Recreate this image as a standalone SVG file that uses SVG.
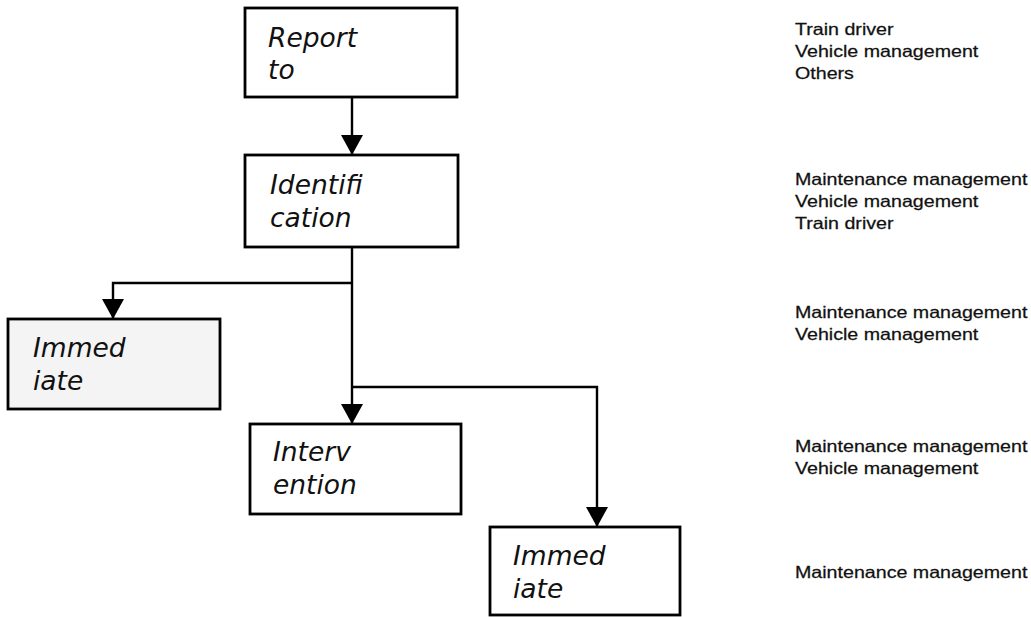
<svg xmlns="http://www.w3.org/2000/svg" width="1031" height="617" viewBox="0 0 1031 617">
  <style>
    .box { fill: #ffffff; stroke: #000000; stroke-width: 2.8; }
    .box.grey { fill: #f4f4f4; }
    .lbl { font-family: "DejaVu Sans", Verdana, sans-serif; font-style: italic; font-size: 26.5px; fill: #111111; }
    .side { font-family: "Liberation Sans", Arial, sans-serif; font-size: 16.5px; fill: #111111; stroke: #111111; stroke-width: 0.25; }
    .conn { fill: none; stroke: #000000; stroke-width: 2.4; }
  </style>
  <defs>
    <marker id="arrow" markerUnits="userSpaceOnUse" markerWidth="22" markerHeight="22" refX="20" refY="11" orient="auto">
      <path d="M0,0 L20,11 L0,22 Z" fill="#000000"/>
    </marker>
  </defs>
  <rect width="1031" height="617" fill="#ffffff"/>

  <g id="connectors">
    <line class="conn" x1="352" y1="97" x2="352" y2="155" marker-end="url(#arrow)"/>
    <line class="conn" x1="352" y1="247" x2="352" y2="424" marker-end="url(#arrow)"/>
    <path class="conn" d="M352,283 H113 V319" marker-end="url(#arrow)"/>
    <path class="conn" d="M352,387 H597 V527" marker-end="url(#arrow)"/>
  </g>

  <g id="node-report">
    <rect class="box" x="245" y="8" width="212" height="89"/>
    <text class="lbl" x="268" y="47">Report</text>
    <text class="lbl" x="268" y="79">to</text>
  </g>
  <g id="node-identification">
    <rect class="box" x="245" y="155" width="213" height="92"/>
    <text class="lbl" x="270" y="194">Identifi</text>
    <text class="lbl" x="270" y="227">cation</text>
  </g>
  <g id="node-immediate-left">
    <rect class="box grey" x="8" y="319" width="212" height="90"/>
    <text class="lbl" x="33" y="357">Immed</text>
    <text class="lbl" x="33" y="390">iate</text>
  </g>
  <g id="node-intervention">
    <rect class="box" x="250" y="424" width="211" height="90"/>
    <text class="lbl" x="273" y="461">Interv</text>
    <text class="lbl" x="273" y="494">ention</text>
  </g>
  <g id="node-immediate-bottom">
    <rect class="box" x="490" y="527" width="190" height="88"/>
    <text class="lbl" x="513" y="565">Immed</text>
    <text class="lbl" x="513" y="598">iate</text>
  </g>

  <g id="roles-1" transform="translate(795,0) scale(1.19,1)">
    <text class="side" x="0" y="35">Train driver</text>
    <text class="side" x="0" y="57">Vehicle management</text>
    <text class="side" x="0" y="79">Others</text>
  </g>
  <g id="roles-2" transform="translate(795,0) scale(1.19,1)">
    <text class="side" x="0" y="185">Maintenance management</text>
    <text class="side" x="0" y="207">Vehicle management</text>
    <text class="side" x="0" y="229">Train driver</text>
  </g>
  <g id="roles-3" transform="translate(795,0) scale(1.19,1)">
    <text class="side" x="0" y="318">Maintenance management</text>
    <text class="side" x="0" y="340">Vehicle management</text>
  </g>
  <g id="roles-4" transform="translate(795,0) scale(1.19,1)">
    <text class="side" x="0" y="452">Maintenance management</text>
    <text class="side" x="0" y="474">Vehicle management</text>
  </g>
  <g id="roles-5" transform="translate(795,0) scale(1.19,1)">
    <text class="side" x="0" y="578">Maintenance management</text>
  </g>
</svg>
